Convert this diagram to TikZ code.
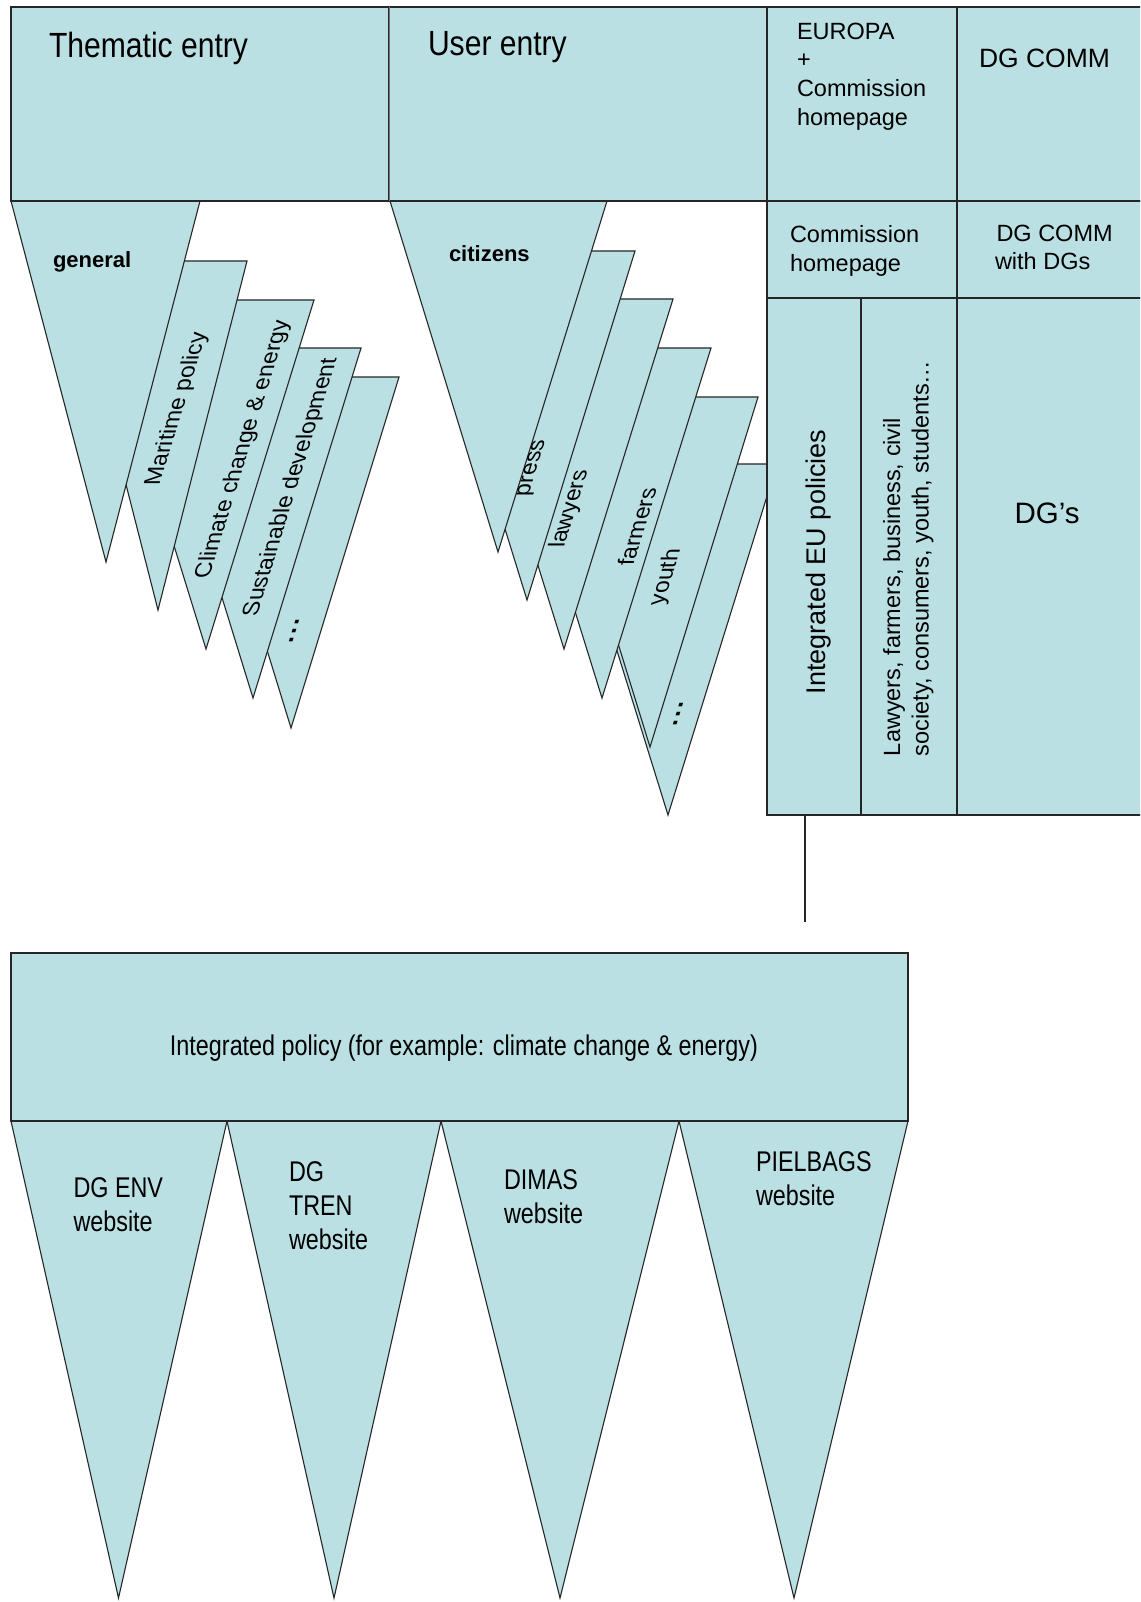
\documentclass[tikz,border=0pt]{standalone}
\usepackage{fontspec}
\setmainfont{Liberation Sans}
\newfontfamily\narrowfont{Liberation Sans}[FakeStretch=0.82]
\newfontfamily\semifont{Liberation Sans}[FakeStretch=0.86]
\definecolor{panel}{RGB}{187,224,227}
\newcommand{\slantlabel}[5]{%
  \begin{scope}[shift={(#2,-#3)}, cm={0.31,1,-1,0,(0,0)}]
    \node[lbl, transform shape, font=\fontsize{#5}{#5}\selectfont] (#1) at (0,0) {#4};
  \end{scope}}
\newcommand{\tdots}{\textbf{.\kern2pt.\kern2pt.}}
\begin{document}
\begin{tikzpicture}[x=1pt,y=1pt,
  shp/.style={fill=panel, draw=black!85, line width=1.1pt},
  lbl/.style={inner sep=0pt, outer sep=0pt, text=black},
  fA/.style={font=\fontsize{23.5}{28.7}\selectfont},
  fN/.style={font=\narrowfont\fontsize{28.5}{34}\selectfont},
]
\clip (0,0) rectangle (1140,-1602);
\fill[white] (0,0) rectangle (1140,-1602);

% ---------- fan 2 (user entry), back to front ----------
\draw[shp] (559,-464) -- (777,-464) -- (668,-815) -- cycle;
\draw[shp] (542,-397) -- (758,-397) -- (650,-747) -- cycle;
\draw[shp] (493,-348) -- (711,-348) -- (602,-698) -- cycle;
\draw[shp] (455,-299) -- (673,-299) -- (564,-649) -- cycle;
\draw[shp] (419,-251) -- (635,-251) -- (527,-600) -- cycle;
\draw[shp] (390,-201) -- (607,-201) -- (498,-552) -- cycle;

% ---------- fan 1 (thematic entry), back to front ----------
\draw[shp] (183,-377) -- (399,-377) -- (291,-728) -- cycle;
\draw[shp] (145,-348) -- (361,-348) -- (253,-698) -- cycle;
\draw[shp] (98,-300) -- (314,-300) -- (206,-649) -- cycle;
\draw[shp] (69,-261) -- (247,-261) -- (158,-610) -- cycle;
\draw[shp] (11,-201) -- (200,-201) -- (106,-562) -- cycle;

% ---------- top row ----------
\draw[shp] (11,-7) rectangle (389,-201);
\draw[shp] (389,-7) rectangle (767,-201);
\draw[black!55, line width=0.8pt] (389,-7) -- (389,-201);
\draw[shp] (767,-7) rectangle (957,-201);
\draw[shp] (957,-7) rectangle (1150,-201);

% ---------- right panel ----------
\draw[shp] (767,-201) rectangle (957,-298);
\draw[shp] (957,-201) rectangle (1150,-298);
\draw[shp] (767,-298) rectangle (861,-815);
\draw[shp] (861,-298) rectangle (957,-815);
\draw[shp] (957,-298) rectangle (1150,-815);

\coordinate (lineTop) at (805,-815);
\coordinate (lineBot) at (805,-922);
\draw[black!85, line width=1.1pt] (lineTop) -- (lineBot);

% ---------- bottom ----------
\draw[shp] (11,-1121) -- (227,-1121) -- (118.5,-1598) -- cycle;
\draw[shp] (227,-1121) -- (441,-1121) -- (334,-1598) -- cycle;
\draw[shp] (441,-1121) -- (679,-1121) -- (560,-1598) -- cycle;
\draw[shp] (679,-1121) -- (908,-1121) -- (794,-1598) -- cycle;
\draw[shp] (11,-953) rectangle (908,-1121);

% ---------- texts: top ----------
\node[lbl, anchor=north west, font=\semifont\fontsize{35}{40}\selectfont] (thematic) at (49,-31.7) {Thematic entry};
\node[lbl, anchor=north west, font=\semifont\fontsize{35}{40}\selectfont] (user) at (428,-31.7) {User entry};
\node[lbl, fA, anchor=north west, align=left] (europa) at (797,-22.6) {EUROPA\\+\\Commission\\homepage};
\node[lbl, anchor=north west, font=\fontsize{26.5}{30}\selectfont] (dgcomm) at (979,-49.5) {DG COMM};
\node[lbl, fA, anchor=north west, align=left] (comhome) at (790,-225.6) {Commission\\homepage};
\node[lbl, fA, anchor=north west, align=left] (dgcommdg) at (995,-224.6) {\hspace{1.5pt}DG COMM\\with DGs};
\node[lbl, rotate=90, font=\fontsize{27}{30}\selectfont] (ieu) at (819,-562) {Integrated EU policies};
\node[lbl, fA, rotate=90, anchor=north west, align=left] (groups) at (883,-756) {Lawyers, farmers, business, civil\\society, consumers, youth, students…};
\node[lbl, font=\fontsize{29.5}{32}\selectfont] (dgs) at (1047,-513) {DG’s};

% ---------- texts: fans ----------
\node[lbl, anchor=base west, font=\bfseries\fontsize{22}{24}\selectfont] (general) at (53,-268) {general};
\node[lbl, anchor=base west, font=\bfseries\fontsize{22}{24}\selectfont] (citizens) at (449,-262) {citizens};
\slantlabel{maritime}{177}{409}{Maritime policy}{23}
\slantlabel{climate}{243}{449}{Climate change \& energy}{23}
\slantlabel{sustain}{291}{487}{Sustainable development}{23}
\slantlabel{dotsA}{294}{631}{\tdots}{25}
\slantlabel{press}{533}{468}{press}{23}
\slantlabel{lawyers}{570}{509}{lawyers}{23}
\slantlabel{farmers}{637}{527}{farmers}{23}
\slantlabel{youth}{666}{577}{youth}{23}
\slantlabel{dotsB}{678}{714}{\tdots}{25}

% ---------- texts: bottom ----------
\node[lbl, fN] (intpol) at (464,-1048) {Integrated policy (for example: climate change \& energy)};
\node[lbl, fN, anchor=north west, align=left] (dgenv) at (73.5,-1178) {DG ENV\\website};
\node[lbl, fN, anchor=north west, align=left] (dgtren) at (289,-1162) {DG\\TREN\\website};
\node[lbl, fN, anchor=north west, align=left] (dimas) at (504,-1170) {DIMAS\\website};
\node[lbl, fN, anchor=north west, align=left] (pielbags) at (756,-1152) {PIELBAGS\\website};
\end{tikzpicture}
\end{document}
